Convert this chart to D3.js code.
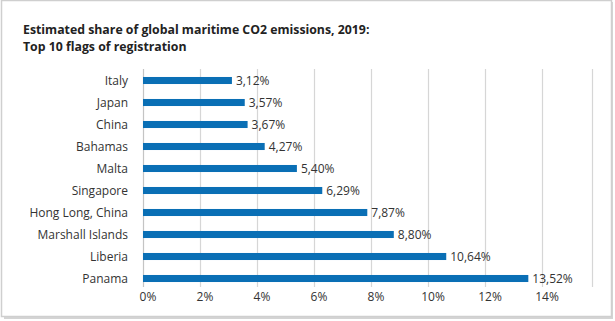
<!DOCTYPE html>
<html>
<head>
<meta charset="utf-8">
<script src="https://cdn.jsdelivr.net/npm/d3@7"></script>
<style>
  html, body { margin: 0; padding: 0; background: #fff; }
  svg { display: block; font-family: "Open Sans", "Noto Sans", sans-serif; }
</style>
</head>
<body>
<div id="chart"></div>
<script>
// data (share of global maritime CO2, %)
const flags = ['Italy', 'Japan', 'China', 'Bahamas', 'Malta', 'Singapore',
  'Hong Long, China', 'Marshall Islands', 'Liberia', 'Panama'];
const shares = [3.12, 3.57, 3.67, 4.27, 5.40, 6.29, 7.87, 8.80, 10.64, 13.52];
const xTicks = [0, 2, 4, 6, 8, 10, 12, 14];
const titleLines = ['Estimated share of global maritime CO2 emissions, 2019:',
  'Top 10 flags of registration'];

const width = 615, height = 321;
const margin = { top: 69, right: 23, bottom: 32, left: 143 };

const svg = d3.select('#chart').append('svg')
  .attr('width', width)
  .attr('height', height);

// frame with a soft shadow on right/bottom
svg.append('rect')
  .attr('x', 4).attr('y', 2)
  .attr('width', width - 6).attr('height', height - 4)
  .attr('fill', '#d4d4d4');
svg.append('rect')
  .attr('x', 1.5).attr('y', 0.5)
  .attr('width', width - 5).attr('height', height - 5)
  .attr('fill', '#fff')
  .attr('stroke', '#cfcfcf')
  .attr('stroke-width', 1.5);

svg.append('g')
  .selectAll('text')
  .data(titleLines)
  .join('text')
  .attr('x', 23)
  .attr('y', (d, i) => 34 + i * 16.5)
  .attr('fill', '#222')
  .style('font-size', '12.3px')
  .style('font-weight', '700')
  .text(d => d);

const x = d3.scaleLinear()
  .domain([0, 14])
  .range([margin.left, 542]);

const y = d3.scaleBand()
  .domain(flags)
  .range([margin.top + 0.5, height - margin.bottom + 0.5])
  .paddingInner(0.68)
  .paddingOuter(0.34);

// gridlines
svg.append('g')
  .selectAll('line')
  .data(xTicks)
  .join('line')
  .attr('x1', d => Math.round(x(d)) + 0.5)
  .attr('x2', d => Math.round(x(d)) + 0.5)
  .attr('y1', margin.top)
  .attr('y2', height - margin.bottom - 2)
  .attr('stroke', d => d === 0 ? '#c4c4c4' : '#d6d6d6')
  .attr('stroke-width', 1.2);

// right border of plot area
svg.append('line')
  .attr('x1', width - margin.right + 0.5)
  .attr('x2', width - margin.right + 0.5)
  .attr('y1', margin.top)
  .attr('y2', height - margin.bottom - 2)
  .attr('stroke', '#d6d6d6')
  .attr('stroke-width', 1.2);

// x axis labels
svg.append('g')
  .selectAll('text')
  .data(xTicks)
  .join('text')
  .attr('x', d => x(d) + 5)
  .attr('y', height - 20)
  .attr('text-anchor', 'middle')
  .attr('fill', '#333')
  .style('font-size', '12px')
  .text(d => d + '%');

// bars
svg.append('g')
  .selectAll('rect')
  .data(flags)
  .join('rect')
  .attr('x', x(0))
  .attr('y', d => y(d))
  .attr('width', (d, i) => x(shares[i]) - x(0))
  .attr('height', y.bandwidth())
  .attr('fill', '#0a6fb5');

// category labels
svg.append('g')
  .selectAll('text')
  .data(flags)
  .join('text')
  .attr('x', margin.left - 15)
  .attr('y', d => y(d) + y.bandwidth() / 2)
  .attr('dy', '0.35em')
  .attr('text-anchor', 'end')
  .attr('fill', '#333')
  .style('font-size', '12px')
  .text(d => d);

// value labels, comma decimal
svg.append('g')
  .selectAll('text')
  .data(flags)
  .join('text')
  .attr('x', (d, i) => x(shares[i]) + 4)
  .attr('y', d => y(d) + y.bandwidth() / 2)
  .attr('dy', '0.35em')
  .attr('fill', '#333')
  .style('font-size', '12px')
  .text((d, i) => shares[i].toFixed(2).replace('.', ',') + '%');
</script>
</body>
</html>
